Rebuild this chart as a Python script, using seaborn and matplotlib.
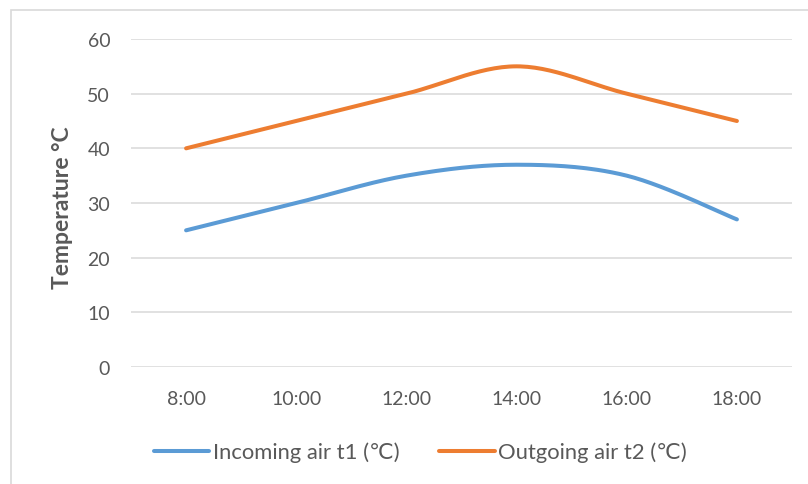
import numpy as np
import pandas as pd
import matplotlib
matplotlib.use("Agg")
import matplotlib.pyplot as plt
import seaborn as sns
from matplotlib.patches import Rectangle

# --- data ---
times = ["8:00", "10:00", "12:00", "14:00", "16:00", "18:00"]
incoming = [25, 30, 35, 37, 35, 27]
outgoing = [40, 45, 50, 55, 50, 45]

BLUE = "#5B9BD5"
ORANGE = "#ED7D31"
GRID = "#D9D9D9"
TEXT = "#595959"

sns.set_theme(style="white")
plt.rcParams['font.family'] = ['Lato', 'DejaVu Sans']


def smooth(values, steps=30):
    """Excel-like smoothed line (Catmull-Rom through the data points)."""
    p = np.asarray(values, dtype=float)
    x = np.arange(len(p), dtype=float)
    xs, ys = [], []
    for i in range(len(p) - 1):
        p0 = p[i - 1] if i > 0 else p[i]
        p3 = p[i + 2] if i + 2 < len(p) else p[i + 1]
        x0 = x[i - 1] if i > 0 else x[i]
        x3 = x[i + 2] if i + 2 < len(p) else x[i + 1]
        t = np.linspace(0, 1, steps, endpoint=(i == len(p) - 2))
        for a0, a1, a2, a3, out in ((x0, x[i], x[i + 1], x3, xs), (p0, p[i], p[i + 1], p3, ys)):
            out.extend(0.5 * (2 * a1 + (-a0 + a2) * t + (2 * a0 - 5 * a1 + 4 * a2 - a3) * t ** 2
                              + (-a0 + 3 * a1 - 3 * a2 + a3) * t ** 3))
    return np.array(xs), np.array(ys)


fig = plt.figure(figsize=(8.08, 4.85), dpi=100)
ax = fig.add_axes([131 / 808, 1 - 368 / 485, 661 / 808, 328 / 485])

for vals, color, name in ((incoming, BLUE, "Incoming air t1 (\u2103)"),
                          (outgoing, ORANGE, "Outgoing air t2 (\u2103)")):
    xs, ys = smooth(vals)
    df = pd.DataFrame({"x": xs, "y": ys})
    sns.lineplot(data=df, x="x", y="y", ax=ax, color=color, linewidth=2.9,
                 sort=False, label=name, solid_capstyle="round")

ax.set_xlim(-0.5, len(times) - 0.5)
ax.set_ylim(0, 60)
ax.set_xticks(range(len(times)))
ax.set_xticklabels(times)
ax.set_yticks(range(0, 61, 10))
ax.tick_params(axis="both", length=0, labelsize=14, colors=TEXT)
ax.tick_params(axis="x", pad=16.5)
ax.tick_params(axis="y", pad=15)
ax.yaxis.grid(True, color=GRID, linewidth=1.1)
ax.set_axisbelow(True)
for s in ax.spines.values():
    s.set_visible(False)
ax.set_xlabel("")
ax.set_ylabel("Temperature \u00b0C", fontsize=16.5, fontweight="bold", color=TEXT)
ax.yaxis.set_label_coords(-0.087, 0.49)

ax.get_legend().remove()
handles, labels = ax.get_legend_handles_labels()
fig.legend(handles, labels, loc="center", bbox_to_anchor=(420 / 808, 1 - 453 / 485), ncol=2,
           frameon=False, fontsize=15.8, handlelength=2.55, handletextpad=0.14, columnspacing=1.8,
           labelcolor=TEXT)

# chart frame
fig.patches.append(Rectangle((10.5 / 808, -0.1), 1.1, 1 - 10.5 / 485 + 0.1, transform=fig.transFigure,
                             fill=False, edgecolor=GRID, linewidth=1.2))

fig.savefig("out.png", dpi=100, facecolor="white")
